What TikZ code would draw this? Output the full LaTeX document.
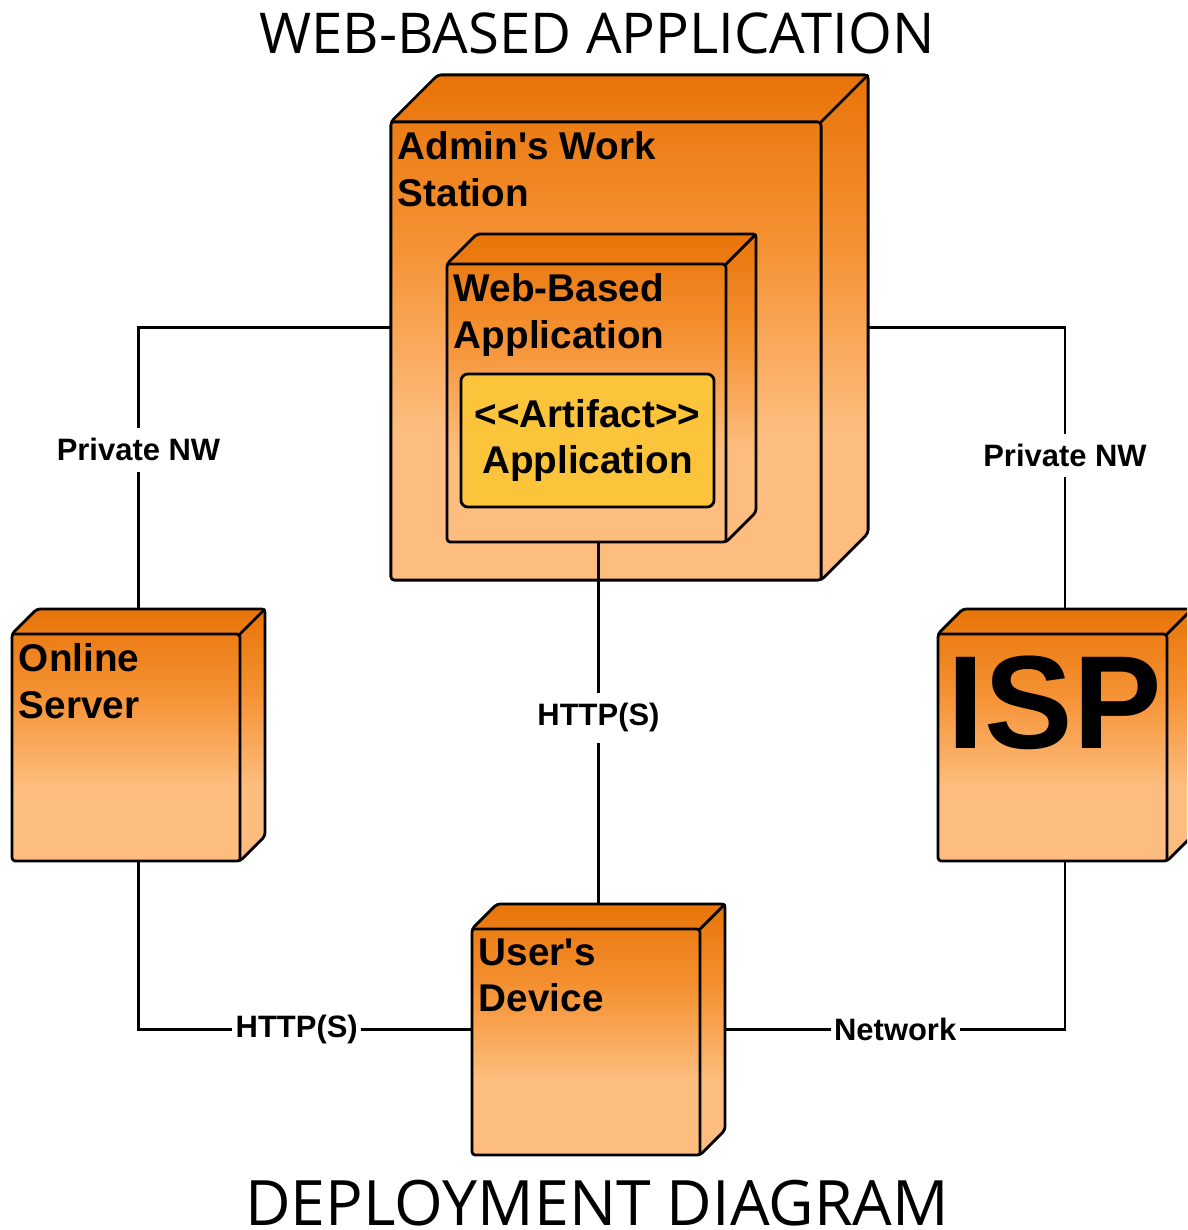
\documentclass[tikz,border=0pt]{standalone}
\usepackage{fontspec}
\setmainfont{Liberation Sans}
\newfontfamily\titlefont{Open Sans}
\usetikzlibrary{positioning}
\definecolor{cubedark}{RGB}{232,116,8}
\definecolor{cubemid}{RGB}{245,146,52}
\definecolor{cubelight}{RGB}{253,189,126}
\definecolor{artifactfill}{RGB}{251,196,59}
\pgfdeclareverticalshading{cubeshade}{100bp}{color(0bp)=(cubelight); color(25bp)=(cubelight); color(40bp)=(cubelight); color(58bp)=(cubemid); color(75bp)=(cubedark); color(100bp)=(cubedark)}
% 3d box round a front node: #1 node, #2 depth
\newcommand{\nodecube}[2]{%
  \shade[shading=cubeshade] (#1.south west) -- (#1.north west) -- ++(#2,-#2) -- ([shift={(#2,-#2)}]#1.north east) -- ([shift={(#2,-#2)}]#1.south east) -- (#1.south east) -- cycle;
  \draw[cube_edge] (#1.south west) -- (#1.north west) -- ++(#2,-#2) -- ([shift={(#2,-#2)}]#1.north east) -- ([shift={(#2,-#2)}]#1.south east) -- (#1.south east) -- cycle;
  \draw[cube_edge] (#1.north west) -- (#1.north east) -- (#1.south east) (#1.north east) -- ++(#2,-#2);
}
\begin{document}
\begin{tikzpicture}[x=0.01cm, y=-0.01cm, front_style/.style={rectangle,inner sep=0pt,outer sep=0pt}, cube_edge/.style={draw=black,line width=0.8pt,line join=round,rounded corners=1pt}, edge_style/.style={draw=black,line width=0.7pt}, name_style/.style={anchor=north west,align=left,inner xsep=1.8pt,inner ysep=2.6pt,font=\fontsize{11}{13.2}\selectfont\bfseries}, label_style/.style={fill=white,inner xsep=1pt,inner ysep=3pt,font=\fontsize{8.8}{10}\selectfont\bfseries}, artifact_style/.style={draw=black,line width=0.8pt,fill=artifactfill,rounded corners=2pt,align=center,font=\fontsize{11}{13.2}\selectfont\bfseries}, title_style/.style={anchor=base,inner sep=0pt,font=\titlefont\fontsize{16}{19}\selectfont}]
  \clip (0,0) rectangle (1187,1230);
  \fill[white] (0,0) rectangle (1187,1230);
  % front faces
  \node[front_style,minimum width=4.30cm,minimum height=4.58cm] (admin) at (606,351) {};
  \node[front_style,minimum width=2.79cm,minimum height=2.78cm] (web) at (586.5,403) {};
  \node[front_style,minimum width=2.28cm,minimum height=2.27cm] (online) at (126,747.5) {};
  \node[front_style,minimum width=2.29cm,minimum height=2.27cm] (isp) at (1052.5,747.5) {};
  \node[front_style,minimum width=2.28cm,minimum height=2.26cm] (user) at (586,1042) {};
  \foreach \n/\d in {admin/47,web/30,online/25,isp/25,user/25}
    \coordinate (\n-c) at ([shift={(\d/2,-\d/2)}]\n.center);
  % links
  \draw[edge_style] (admin-c) -| node[label_style,pos=0.65] (nw-left) {Private NW} (online-c);
  \draw[edge_style] (admin-c) -| node[label_style,pos=0.657] (nw-right) {Private NW} (isp-c);
  \draw[edge_style] (online-c) |- node[label_style,pos=0.672] (http-left) {HTTP(S)} (user-c);
  \draw[edge_style] (user-c) -| node[label_style,pos=0.318] (net) {Network} (isp-c);
  % boxes
  \nodecube{admin}{47}
  \draw[edge_style] (user-c |- web-c) -- node[label_style,pos=0.514] (http-mid) {HTTP(S)} (user-c);
  \nodecube{web}{30}
  \node[artifact_style,minimum width=2.53cm,minimum height=1.33cm] (artifact) at (587.5,440.5) {<\kern0pt<Artifact>\kern0pt>\\Application};
  \nodecube{online}{25}
  \nodecube{isp}{25}
  \nodecube{user}{25}
  % names
  \node[name_style] (admin-t) at (admin.north west) {Admin\textquotesingle s Work\\Station};
  \node[name_style] (web-t) at (web.north west) {Web-Based\\Application};
  \node[name_style] (online-t) at (online.north west) {Online\\Server};
  \node[name_style] (user-t) at (user.north west) {User\textquotesingle s\\Device};
  \node[name_style,inner xsep=2.6pt,inner ysep=6pt,font=\fontsize{37.7}{40}\selectfont\bfseries] (isp-t) at (isp.north west) {ISP};
  % titles
  \node[title_style] (title-top) at (597,53) {WEB-BASED APPLICATION};
  \node[title_style,font=\titlefont\fontsize{17.8}{21}\selectfont] (title-bottom) at (597,1225) {DEPLOYMENT DIAGRAM};
\end{tikzpicture}
\end{document}
